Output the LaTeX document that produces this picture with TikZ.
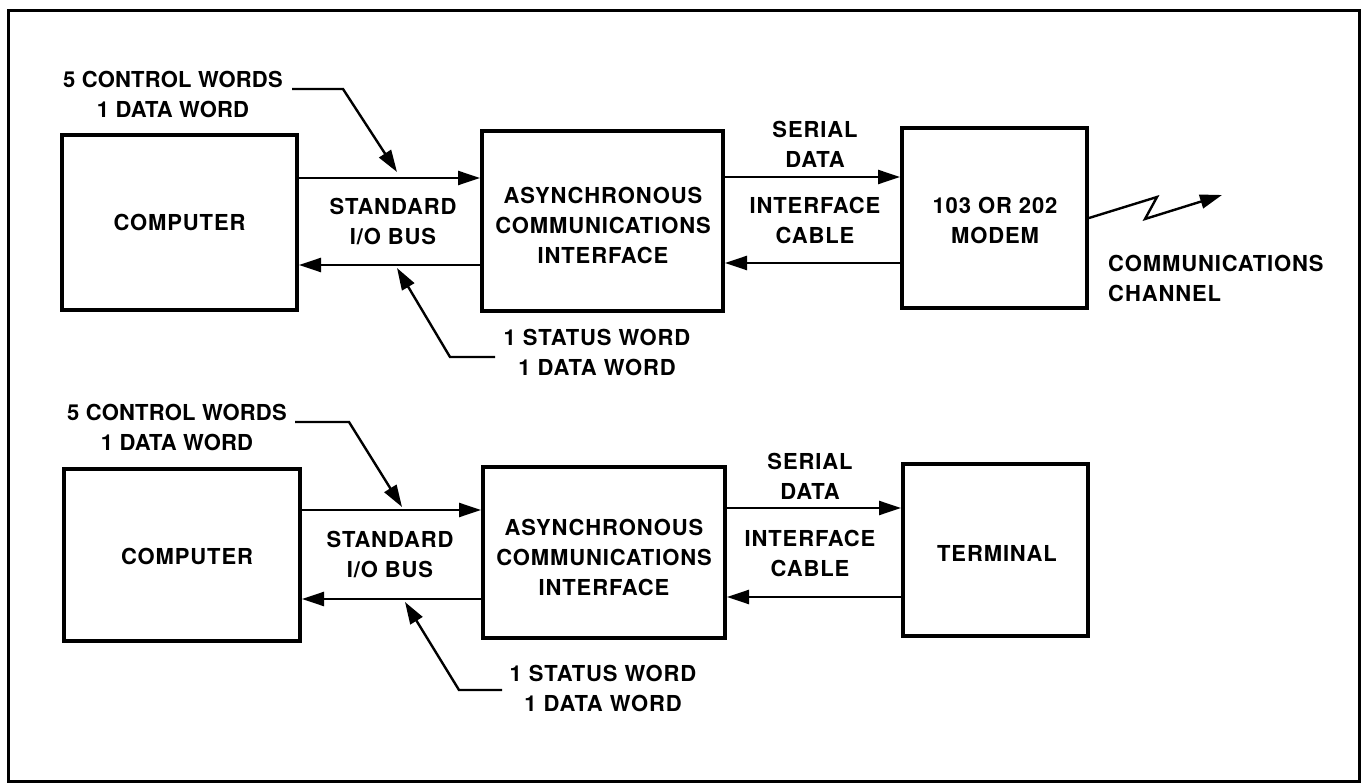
\documentclass[tikz,border=0pt]{standalone}
\usepackage{fontspec}
\setmainfont{TeX Gyre Heros}[LetterSpace=4]
\newfontfamily\tightfont{TeX Gyre Heros}[LetterSpace=1]
\usetikzlibrary{arrows.meta}
\begin{document}
\begin{tikzpicture}[x=1pt,y=-1pt,
  box/.style={draw,line width=4pt,inner sep=0pt},
  lbl/.style={font=\fontsize{22}{30}\selectfont\bfseries,align=center,inner sep=0pt},
  arr/.style={line width=2.4pt,-{Triangle[length=22pt,width=14pt]}},
  note/.style={line width=2.4pt,-{Triangle[length=22pt,width=14pt]}}]
\useasboundingbox (0,0) rectangle (1361,783);
\draw[line width=3pt] (8,11) rectangle (1359,781);

% ---------- top row ----------
\node[box,minimum width=235pt,minimum height=175pt] (comp1) at (179.5,222.5) {};
\node[lbl] at (comp1.center) {COMPUTER};
\node[box,minimum width=241pt,minimum height=180pt] (aci1) at (602.5,221) {};
\node[lbl] at (603,225) {ASYNCHRONOUS\\COMMUNICATIONS\\INTERFACE};
\node[box,minimum width=185pt,minimum height=180pt] (modem) at (994.5,218) {};
\node[lbl] at (995,220) {103 OR 202\\MODEM};

\draw[arr] (comp1.east |- 0,178) -- (aci1.west |- 0,178);
\draw[arr] (aci1.west |- 0,265) -- (comp1.east |- 0,265);
\draw[arr] (aci1.east |- 0,177) -- (modem.west |- 0,177);
\draw[arr] (modem.west |- 0,263) -- (aci1.east |- 0,263);

\node[lbl] (bus1) at (393,222) {STANDARD\\I/O BUS};
\node[lbl] (ser1) at (815,144) {SERIAL\\DATA};
\node[lbl] (cab1) at (815,220) {INTERFACE\\CABLE};

\node[lbl,font=\fontsize{22}{30}\tightfont\bfseries] (in1) at (173,94) {5 CONTROL WORDS\\1 DATA WORD};
\coordinate (in1a) at (292,89);
\coordinate (in1b) at (343,89);
\coordinate (in1t) at (397,172);
\draw[note] (in1a) -- (in1b) -- (in1t);

\node[lbl] (out1) at (597,352) {1 STATUS WORD\\1 DATA WORD};
\coordinate (out1a) at (495,357);
\coordinate (out1b) at (450,357);
\coordinate (out1t) at (397,268);
\draw[note] (out1a) -- (out1b) -- (out1t);

\coordinate (z1) at (1157,197);
\coordinate (z2) at (1145,219);
\coordinate (z3) at (1222,195);
\draw[line width=2.4pt,-{Triangle[length=22pt,width=14pt]}] (modem.east) -- (z1) -- (z2) -- (z3);
\node[lbl,align=left,anchor=west] (chan) at (1108,278) {COMMUNICATIONS\\CHANNEL};

% ---------- bottom row ----------
\node[box,minimum width=236pt,minimum height=172pt] (comp2) at (182,555) {};
\node[lbl] at (187,556) {COMPUTER};
\node[box,minimum width=242pt,minimum height=171pt] (aci2) at (604,552.5) {};
\node[lbl] at (604,557) {ASYNCHRONOUS\\COMMUNICATIONS\\INTERFACE};
\node[box,minimum width=185pt,minimum height=172pt] (term) at (995.5,550) {};
\node[lbl] at (997,553) {TERMINAL};

\draw[arr] (comp2.east |- 0,510) -- (aci2.west |- 0,510);
\draw[arr] (aci2.west |- 0,599) -- (comp2.east |- 0,599);
\draw[arr] (aci2.east |- 0,508) -- (term.west |- 0,508);
\draw[arr] (term.west |- 0,597) -- (aci2.east |- 0,597);

\node[lbl] (bus2) at (390,555) {STANDARD\\I/O BUS};
\node[lbl] (ser2) at (810,476) {SERIAL\\DATA};
\node[lbl] (cab2) at (810,553) {INTERFACE\\CABLE};

\node[lbl,font=\fontsize{22}{30}\tightfont\bfseries] (in2) at (177,427) {5 CONTROL WORDS\\1 DATA WORD};
\coordinate (in2a) at (295,422);
\coordinate (in2b) at (349,422);
\coordinate (in2t) at (402,507);
\draw[note] (in2a) -- (in2b) -- (in2t);

\node[lbl] (out2) at (603,688) {1 STATUS WORD\\1 DATA WORD};
\coordinate (out2a) at (502,690);
\coordinate (out2b) at (459,690);
\coordinate (out2t) at (405,602);
\draw[note] (out2a) -- (out2b) -- (out2t);
\end{tikzpicture}
\end{document}
